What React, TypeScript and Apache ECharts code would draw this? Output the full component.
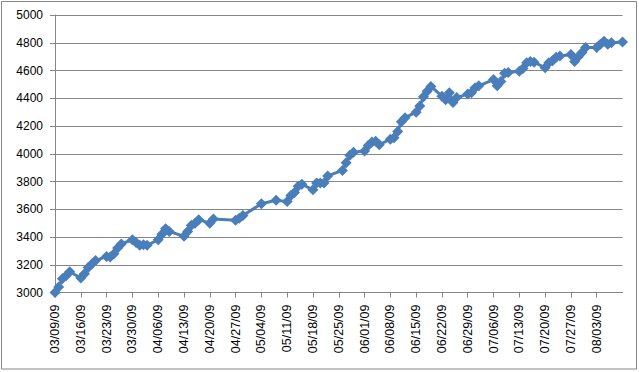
import React, { useEffect, useRef } from "react";
import * as echarts from "echarts";

const endDay = 154;

const dates: string[] = [
  "03/09", "03/10", "03/11", "03/12", "03/13",
  "03/16", "03/17", "03/18", "03/19", "03/20",
  "03/23", "03/24", "03/25", "03/26", "03/27",
  "03/30", "03/31", "04/01", "04/02", "04/03",
  "04/06", "04/07", "04/08", "04/09",
  "04/13", "04/14", "04/15", "04/16", "04/17",
  "04/20", "04/21",
  "04/27", "04/28", "04/29",
  "05/04", "05/08",
  "05/11", "05/12", "05/13", "05/14", "05/15",
  "05/18", "05/19", "05/20", "05/21", "05/22",
  "05/26", "05/27", "05/28", "05/29",
  "06/01", "06/02", "06/03", "06/04", "06/05",
  "06/08", "06/09", "06/10", "06/11", "06/12",
  "06/15", "06/16", "06/17", "06/18", "06/19",
  "06/22", "06/23", "06/24", "06/25", "06/26",
  "06/29", "06/30", "07/01", "07/02",
  "07/06", "07/07", "07/08", "07/09", "07/10",
  "07/13", "07/14", "07/15", "07/16", "07/17",
  "07/20", "07/21", "07/22", "07/23", "07/24",
  "07/27", "07/28", "07/29", "07/30", "07/31",
  "08/03", "08/04", "08/05", "08/06", "08/07",
  "08/10",
];

const values: number[] = [
  3000, 3040, 3100, 3120, 3150,
  3105, 3135, 3180, 3205, 3230,
  3260, 3255, 3280, 3320, 3350,
  3380, 3360, 3340, 3345, 3340,
  3380, 3420, 3460, 3440,
  3405, 3440, 3485, 3500, 3525,
  3500, 3530,
  3520, 3535, 3555,
  3640, 3665,
  3655, 3700, 3720, 3765, 3780,
  3740, 3790, 3790, 3790, 3840,
  3880, 3935, 3990, 4010,
  4020, 4060, 4085, 4090, 4065,
  4105, 4115, 4160, 4230, 4260,
  4300, 4345, 4410, 4450, 4485,
  4415, 4390, 4440, 4370, 4405,
  4430, 4440, 4475, 4490,
  4535, 4490, 4520, 4580, 4585,
  4595, 4615, 4655, 4665, 4660,
  4620, 4655, 4670, 4695, 4705,
  4715, 4665, 4700, 4730, 4765,
  4765, 4790, 4810, 4790, 4800,
  4805,
];

const yMin = 3000;
const yMax = 5000;
const yStep = 200;

const DAY = 86400000;
const t0 = Date.UTC(2009, 2, 9);

function toDay(md: string): number {
  const [m, d] = md.split("/").map(Number);
  return Math.round((Date.UTC(2009, m - 1, d) - t0) / DAY);
}

function dayLabel(v: number): string {
  const dt = new Date(t0 + v * DAY);
  const mm = String(dt.getUTCMonth() + 1).padStart(2, "0");
  const dd = String(dt.getUTCDate()).padStart(2, "0");
  const yy = String(dt.getUTCFullYear() % 100).padStart(2, "0");
  return `${mm}/${dd}/${yy}`;
}

export default function App() {
  const ref = useRef<HTMLDivElement>(null);
  useEffect(() => {
    if (!ref.current) return;
    const chart = echarts.init(ref.current, null, { renderer: "svg" });
    const data = dates.map((d, i) => [toDay(d), values[i]]);
    const font = "'Liberation Sans', Arial, sans-serif";
    chart.setOption({
      animation: false,
      backgroundColor: "#ffffff",
      grid: { left: 55, right: 16.5, top: 15, bottom: 79.5, containLabel: false },
      graphic: [
        {
          type: "rect",
          shape: { x: 1.5, y: 1.5, width: 635, height: 367.5 },
          style: { fill: "none", stroke: "#868686", lineWidth: 1 },
          silent: true,
        },
      ],
      xAxis: {
        type: "value",
        min: 0,
        max: endDay,
        interval: 7,
        axisLine: { show: true, lineStyle: { color: "#868686", width: 1 } },
        axisTick: { show: true, length: 5, lineStyle: { color: "#868686" } },
        splitLine: { show: false },
        axisLabel: {
          rotate: 90,
          margin: 12,
          color: "#000",
          fontSize: 12.5,
          fontFamily: font,
          showMaxLabel: false,
          formatter: (v: number) => (v >= endDay ? "" : dayLabel(v)),
        },
      },
      yAxis: {
        type: "value",
        min: yMin,
        max: yMax,
        interval: yStep,
        axisLine: { show: true, lineStyle: { color: "#868686", width: 1 } },
        axisTick: { show: true, length: 5, lineStyle: { color: "#868686" } },
        splitLine: { show: true, lineStyle: { color: "#868686", width: 1 } },
        axisLabel: {
          color: "#000",
          fontSize: 12,
          fontFamily: font,
          margin: 12,
          formatter: (v: number) => String(v),
        },
      },
      series: [
        {
          type: "line",
          data,
          symbol: "diamond",
          symbolSize: 11,
          showAllSymbol: true,
          itemStyle: { color: "#4A7EBB" },
          lineStyle: { color: "#4A7EBB", width: 3 },
        },
      ],
    });
    return () => chart.dispose();
  }, []);
  return (
    <div
      ref={ref}
      style={{ position: "fixed", left: 0, top: 0, width: 639, height: 372 }}
    />
  );
}
